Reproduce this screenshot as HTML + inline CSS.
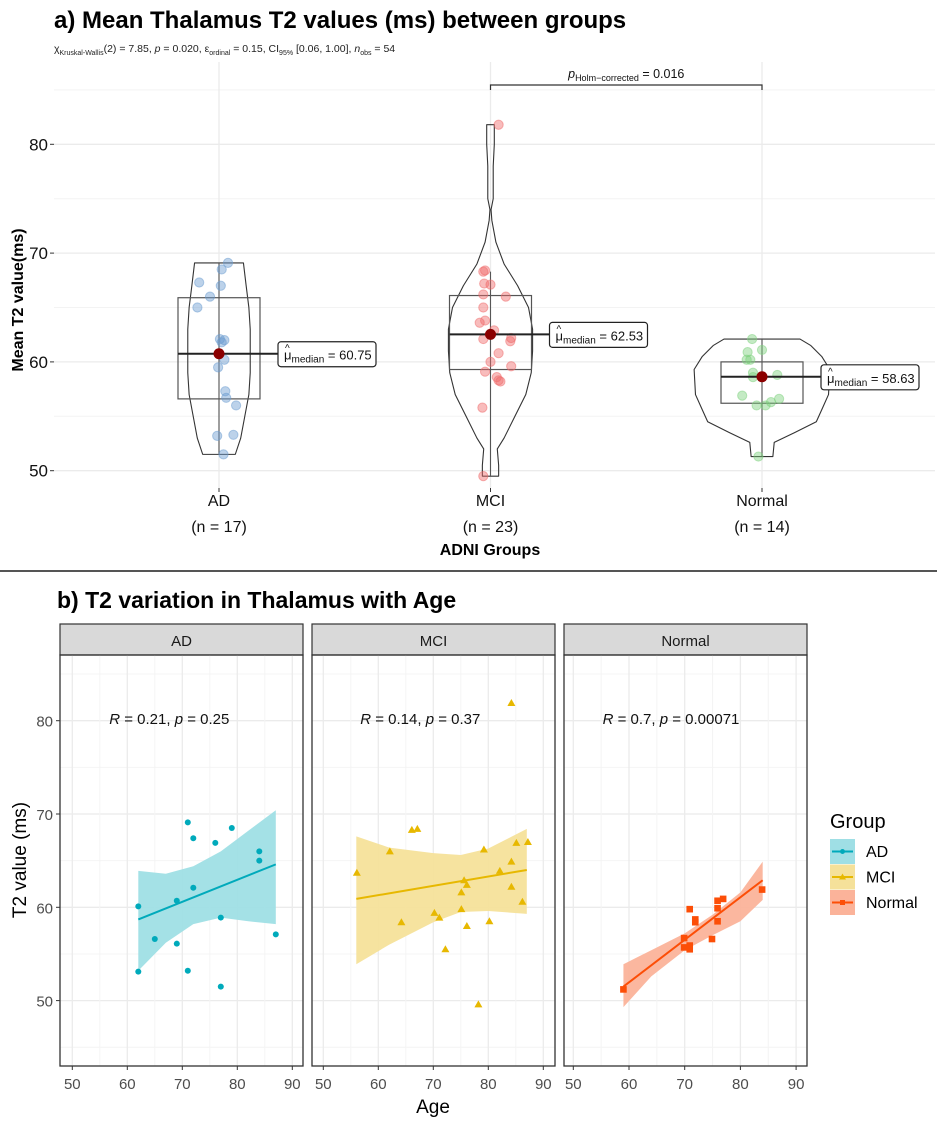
<!DOCTYPE html>
<html><head><meta charset="utf-8"><style>
body{margin:0;background:#fff;}
svg{display:block;font-family:"Liberation Sans",Arial,sans-serif;}
</style></head><body>
<svg id="fig" width="937" height="1125" viewBox="0 0 937 1125" xmlns="http://www.w3.org/2000/svg">
<rect width="937" height="1125" fill="#fff"/>
<g id="topG"></g>
<line x1="0" y1="571" x2="937" y2="571" stroke="#555" stroke-width="2"/>
<g id="botG"></g>
</svg>
<script>
// ---------- data: violin chart ----------
const groups = ["AD","MCI","Normal"];
const groupN = [17,23,14];
const medians = [60.75,62.53,58.63];
const boxQ1 = [56.6,59.3,56.2];
const boxQ3 = [65.9,66.1,60.0];
const whiskLo = [51.5,49.5,51.3];
const whiskHi = [69.1,68.3,62.1];
const yTicksTop = [50,60,70,80];
const valsAD = [69.1,68.5,67.3,67.0,66.0,65.0,62.1,62.0,60.2,59.5,57.3,56.7,56.0,53.2,51.5,53.3,61.8];
const jitAD = [0.1,0.03,-0.22,0.02,-0.1,-0.24,0.01,0.06,0.06,-0.01,0.07,0.08,0.19,-0.02,0.05,0.16,0.03];
const valsMCI = [81.8,68.3,68.4,67.2,67.1,66.2,66.0,65.0,63.8,63.6,62.9,62.1,62.2,61.9,60.8,60.0,59.6,59.1,58.6,58.3,58.2,55.8,49.5];
const jitMCI = [0.09,-0.08,-0.06,-0.07,0.0,-0.08,0.17,-0.08,-0.06,-0.12,0.04,-0.08,0.23,0.22,0.09,0.0,0.23,-0.06,0.07,0.09,0.11,-0.09,-0.08];
const valsNorm = [62.1,61.1,60.9,60.2,60.2,59.0,58.8,56.9,56.6,56.0,56.0,56.3,51.3,58.6];
const jitNorm = [-0.11,0.0,-0.16,-0.17,-0.13,-0.1,0.17,-0.22,0.19,-0.06,0.04,0.1,-0.04,-0.1];
const violLevels = [
 [51.5,53,55,57,59,61,63,65,67,69.1],
 [49.5,50.5,52,53,55,57,59,61,63,65,67,69,71,73,74,75,78,80,81.8],
 [51.3,52.6,53.5,54.5,55.6,57,59.3,60.5,61.5,62.1]];
const violWidth = [
 [0.06,0.08,0.095,0.11,0.115,0.115,0.115,0.11,0.1,0.09],
 [0.03,0.03,0.025,0.05,0.09,0.13,0.15,0.155,0.155,0.14,0.1,0.05,0.02,0.005,0.002,0.01,0.01,0.014,0.014],
 [0.04,0.045,0.12,0.2,0.22,0.245,0.25,0.22,0.18,0.14]];
const ptColors = ["#6a9bd0","#f06a6a","#7dd17d"];

// ---------- data: scatter facets ----------
const facetNames = ["AD","MCI","Normal"];
const adAge = [62,62,65,69,69,71,71,72,72,76,77,77,79,84,84,87];
const adT2 = [60.1,53.1,56.6,60.7,56.1,69.1,53.2,67.4,62.1,66.9,58.9,51.5,68.5,66.0,65.0,57.1];
const mciAge = [56.1,62.1,64.2,66.1,67.1,70.2,71.1,72.2,75.1,75.1,76.1,76.1,78.2,79.2,80.2,82.1,84.2,84.2,84.2,85.1,86.2,87.2,75.6];
const mciT2 = [63.7,66.0,58.4,68.3,68.4,59.4,58.9,55.5,61.6,59.8,62.4,58.0,49.6,66.2,58.5,63.9,81.9,64.9,62.2,66.9,60.6,67.0,62.9];
const normAge = [59.0,69.9,69.9,70.9,70.9,70.9,71.9,71.9,74.9,75.9,75.9,75.9,76.9,83.9];
const normT2 = [51.2,56.7,55.7,55.5,59.8,55.9,58.7,58.4,56.6,60.7,59.9,58.5,60.9,61.9];
const fitAge = [[62,87],[56,87],[59,84]];
const fitT2 = [[58.7,64.6],[60.9,64.0],[51.5,62.9]];
const bandAge = [[62,67,72,77,82,87],[56,62,70,75,80,87],[59,64,70,75,80,84]];
const bandHi = [[63.9,63.6,64.4,66.0,68.2,70.4],[67.6,66.4,65.8,65.6,66.3,68.4],[53.9,55.4,57.2,59.2,61.6,64.9]];
const bandLo = [[53.2,56.2,58.2,58.9,58.5,58.2],[53.9,56.0,58.4,59.5,59.6,59.3],[49.3,52.6,55.4,57.0,58.5,60.8]];
const corrText = ["R = 0.21, p = 0.25","R = 0.14, p = 0.37","R = 0.7, p = 0.00071"];
const xTicksBot = [50,60,70,80,90];
const yTicksBot = [50,60,70,80];
const facetCol = ["#00aabb","#e7b800","#fc4e07"];
const facetFill = ["#9fdfe5","#f5e19a","#fbb39a"];

const NS="http://www.w3.org/2000/svg";
function mk(parent,tag,attrs,text){const e=document.createElementNS(NS,tag);for(const k in attrs)e.setAttribute(k,attrs[k]);if(text!==undefined)e.textContent=text;parent.appendChild(e);return e;}

// ---------- top chart ----------
const topG=document.getElementById('topG');
const yT=v=>144.3+(80-v)*10.88;
const xT=i=>219+i*271.5;
const xTc=(i,d)=>xT(i)+d*271.5;
const xJ=(i,d)=>xT(i)+d*90;
for(let v=50;v<=85;v+=5){const l=mk(topG,'line',{x1:54,x2:935,y1:yT(v),y2:yT(v),stroke:v%10?'#f3f3f3':'#ebebeb','stroke-width':v%10?1:1.3});

}
groups.forEach((g,i)=>{const l=mk(topG,'line',{x1:xT(i),x2:xT(i),y1:62,y2:488,stroke:'#ebebeb','stroke-width':1.3});

});
yTicksTop.forEach(v=>{mk(topG,'line',{x1:50,x2:54,y1:yT(v),y2:yT(v),stroke:'#333'});
const t=mk(topG,'text',{x:48,y:yT(v)+6,'text-anchor':'end','font-size':17,fill:'#111'},v);

});
const allVals=[valsAD,valsMCI,valsNorm], allJit=[jitAD,jitMCI,jitNorm];
groups.forEach((g,i)=>{
 const L=violLevels[i],W=violWidth[i];
 let d='M'+xTc(i,W[0])+','+yT(L[0]);
 for(let k=0;k<L.length;k++) d+=' L'+xTc(i,W[k])+','+yT(L[k]);
 for(let k=L.length-1;k>=0;k--) d+=' L'+xTc(i,-W[k])+','+yT(L[k]);
 d+='Z';
 const vp=mk(topG,'path',{d:d,fill:'none',stroke:'#333','stroke-width':1.1,'stroke-linejoin':'round'});
 
 
 const wl=mk(topG,'line',{x1:xT(i),x2:xT(i),y1:yT(whiskHi[i]),y2:yT(whiskLo[i]),stroke:'#555','stroke-width':1.1});
 
 
 const bx=mk(topG,'rect',{x:xT(i)-41,y:yT(boxQ3[i]),width:82,height:yT(boxQ1[i])-yT(boxQ3[i]),fill:'#fff','fill-opacity':0.01,stroke:'#555','stroke-width':1.2});
 
 
 allVals[i].forEach((v,k)=>{const c=mk(topG,'circle',{cx:xJ(i,allJit[i][k]),cy:yT(v),r:4.6,fill:ptColors[i],'fill-opacity':0.45,stroke:ptColors[i],'stroke-opacity':0.5});
 
 });
 const ml=mk(topG,'line',{x1:xT(i)-41,x2:xT(i)+60,y1:yT(medians[i]),y2:yT(medians[i]),stroke:'#222','stroke-width':2});
 
 
 const md=mk(topG,'circle',{cx:xT(i),cy:yT(medians[i]),r:5.5,fill:'#8b0000'});
 
 
 const lx=xT(i)+59, ly=yT(medians[i])-12;
 const lb=mk(topG,'rect',{x:lx,y:ly,width:98,height:25,rx:3,fill:'#fff',stroke:'#222','stroke-width':1.2});
 
 
 const lt=mk(topG,'text',{x:lx+6,y:ly+18,'font-size':13,fill:'#111'});
 mk(lt,'tspan',{},'μ');
 mk(lt,'tspan',{'font-size':10,dy:3},'median');
 mk(lt,'tspan',{dy:-3},' = '+medians[i].toFixed(2));
 mk(topG,'text',{x:lx+7,y:ly+10,'font-size':10,fill:'#111'},'^');
 const gl=mk(topG,'text',{x:xT(i),y:506,'text-anchor':'middle','font-size':16,fill:'#111'},g);
 
 
 const nl=mk(topG,'text',{x:xT(i),y:532,'text-anchor':'middle','font-size':16,fill:'#111'},'(n = '+groupN[i]+')');
 
 
 mk(topG,'line',{x1:xT(i),x2:xT(i),y1:488,y2:492,stroke:'#333'});
});
const br=mk(topG,'path',{d:'M'+xT(1)+',90 L'+xT(1)+',85 L'+xT(2)+',85 L'+xT(2)+',90',fill:'none',stroke:'#333','stroke-width':1.2});


const bt=mk(topG,'text',{x:(xT(1)+xT(2))/2,y:78,'text-anchor':'middle','font-size':12.5,fill:'#111'});
mk(bt,'tspan',{'font-style':'italic'},'p');
mk(bt,'tspan',{'font-size':9,dy:3},'Holm−corrected');
mk(bt,'tspan',{dy:-3},' = 0.016');


const tt=mk(topG,'text',{x:54,y:28,'font-size':24,'font-weight':'bold',fill:'#000'},'a) Mean Thalamus T2 values (ms) between groups');


const st=mk(topG,'text',{x:54,y:52,'font-size':10.5,fill:'#222'});
const stParts=[['χ',{}],['Kruskal-Wallis',{'font-size':7,dy:3}],['(2) = 7.85, ',{dy:-3}],['p',{'font-style':'italic'}],[' = 0.020, ε',{}],['ordinal',{'font-size':7,dy:3}],[' = 0.15, CI',{dy:-3}],['95%',{'font-size':7,dy:3}],[' [0.06, 1.00], ',{dy:-3}],['n',{'font-style':'italic'}],['obs',{'font-size':7,dy:3}],[' = 54',{dy:-3}]];
stParts.forEach(p=>mk(st,'tspan',p[1],p[0]));


const ytl=mk(topG,'text',{x:0,y:0,transform:'translate(23,300) rotate(-90)','text-anchor':'middle','font-size':16,'font-weight':'bold',fill:'#000'},'Mean T2 value(ms)');


const xtl=mk(topG,'text',{x:490,y:555,'text-anchor':'middle','font-size':16,'font-weight':'bold',fill:'#000'},'ADNI Groups');



// ---------- bottom chart ----------
const botG=document.getElementById('botG');
const panL=[60,312,564], panR=[303,555,807], x50=[72.3,323.3,573.3], xPer=[5.5,5.5,5.57];
const yB=v=>720.7+(80-v)*9.33;
const PT=655,PB=1066;
const ages=[adAge,mciAge,normAge], t2s=[adT2,mciT2,normT2];
const bt2=mk(botG,'text',{x:57,y:608,'font-size':23,'font-weight':'bold',fill:'#000'},'b) T2 variation in Thalamus with Age');


facetNames.forEach((f,i)=>{
 const xB=a=>x50[i]+(a-50)*xPer[i];
 const g=mk(botG,'g',{});
 
 
 const strip=mk(g,'rect',{x:panL[i],y:624,width:panR[i]-panL[i],height:PT-624,fill:'#d9d9d9',stroke:'#333','stroke-width':1.2});
 
 
 const sl=mk(g,'text',{x:(panL[i]+panR[i])/2,y:646,'text-anchor':'middle','font-size':15,fill:'#1a1a1a'},f);
 
 
 for(let v=45;v<=85;v+=5) mk(g,'line',{x1:panL[i],x2:panR[i],y1:yB(v),y2:yB(v),stroke:v%10?'#f4f4f4':'#ebebeb','stroke-width':v%10?1:1.3});
 for(let a=45;a<=90;a+=5){const x=xB(a);if(x>panL[i]&&x<panR[i])mk(g,'line',{x1:x,x2:x,y1:PT,y2:PB,stroke:a%10?'#f4f4f4':'#ebebeb','stroke-width':a%10?1:1.3});}
 let d='M'+xB(bandAge[i][0])+','+yB(bandHi[i][0]);
 for(let k=1;k<bandAge[i].length;k++) d+=' L'+xB(bandAge[i][k])+','+yB(bandHi[i][k]);
 for(let k=bandAge[i].length-1;k>=0;k--) d+=' L'+xB(bandAge[i][k])+','+yB(bandLo[i][k]);
 d+='Z';
 const band=mk(g,'path',{d:d,fill:facetFill[i],'fill-opacity':0.95});
 
 
 const fl=mk(g,'line',{x1:xB(fitAge[i][0]),y1:yB(fitT2[i][0]),x2:xB(fitAge[i][1]),y2:yB(fitT2[i][1]),stroke:facetCol[i],'stroke-width':2});
 
 
 ages[i].forEach((a,k)=>{const x=xB(a),y=yB(t2s[i][k]);let m;
  if(i===0) m=mk(g,'circle',{cx:x,cy:y,r:3,fill:facetCol[i]});
  else if(i===1) m=mk(g,'path',{d:'M'+x+','+(y-4)+' L'+(x+4)+','+(y+3)+' L'+(x-4)+','+(y+3)+'Z',fill:facetCol[i]});
  else m=mk(g,'rect',{x:x-3.3,y:y-3.3,width:6.6,height:6.6,fill:facetCol[i]});
  
  });
 const ct=mk(g,'text',{x:xB(60)+42,y:724,'text-anchor':'middle','font-size':15,fill:'#111'});
 const parts=corrText[i].split(', ');
 mk(ct,'tspan',{'font-style':'italic'},'R');
 mk(ct,'tspan',{},parts[0].slice(1)+', ');
 mk(ct,'tspan',{'font-style':'italic'},'p');
 mk(ct,'tspan',{},parts[1].slice(1));
 
 
 const pb=mk(g,'rect',{x:panL[i],y:PT,width:panR[i]-panL[i],height:PB-PT,fill:'none',stroke:'#333','stroke-width':1.3});
 
 
 xTicksBot.forEach(a=>{mk(g,'line',{x1:xB(a),x2:xB(a),y1:PB,y2:PB+4,stroke:'#333'});
  const t=mk(g,'text',{x:xB(a),y:1089,'text-anchor':'middle','font-size':15,fill:'#4d4d4d'},a);
  
  });
});
yTicksBot.forEach(v=>{mk(botG,'line',{x1:56,x2:60,y1:yB(v),y2:yB(v),stroke:'#333'});
 const t=mk(botG,'text',{x:53,y:yB(v)+6,'text-anchor':'end','font-size':15,fill:'#4d4d4d'},v);
 
 });
const yt2=mk(botG,'text',{x:0,y:0,transform:'translate(26,860) rotate(-90)','text-anchor':'middle','font-size':19,fill:'#000'},'T2 value (ms)');


const xt2=mk(botG,'text',{x:433,y:1113,'text-anchor':'middle','font-size':19,fill:'#000'},'Age');


const lg=mk(botG,'g',{});


mk(lg,'text',{x:830,y:828,'font-size':20,fill:'#000'},'Group');
facetNames.forEach((f,i)=>{const y=839+i*25.5;
 const e=mk(lg,'g',{});
 
 
 mk(e,'rect',{x:830,y:y,width:25,height:25,fill:facetFill[i]});
 mk(e,'line',{x1:832,x2:853,y1:y+12.5,y2:y+12.5,stroke:facetCol[i],'stroke-width':2});
 if(i===0) mk(e,'circle',{cx:842.5,cy:y+12.5,r:2.5,fill:facetCol[i]});
 else if(i===1) mk(e,'path',{d:'M842.5,'+(y+9)+' L846,'+(y+15)+' L839,'+(y+15)+'Z',fill:facetCol[i]});
 else mk(e,'rect',{x:840,y:y+10,width:5,height:5,fill:facetCol[i]});
 mk(e,'text',{x:866,y:y+18,'font-size':16,fill:'#000'},f);
});
</script>
</body></html>
